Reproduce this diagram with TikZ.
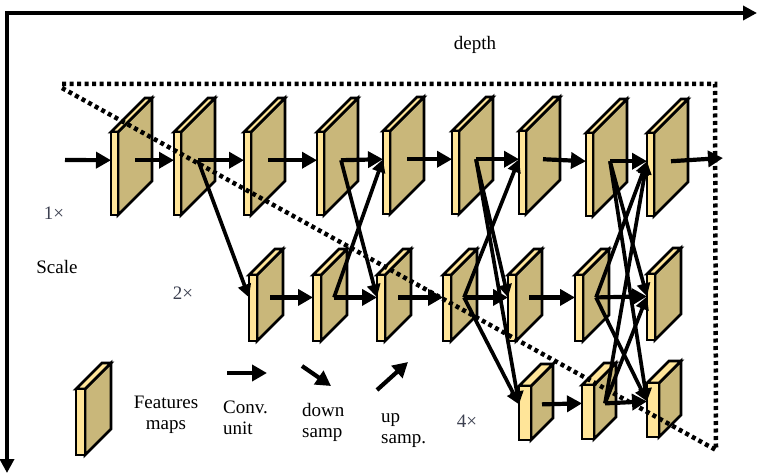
\documentclass[tikz,border=0pt]{standalone}
\usepackage{fontspec}
\setmainfont{Liberation Serif}
\usetikzlibrary{arrows.meta}
\definecolor{sidecol}{RGB}{201,183,122}
\definecolor{frontcol}{RGB}{255,229,153}
\definecolor{lblcol}{RGB}{60,64,80}
\newcommand\fmap[6]{%
  \draw[mapline, fill=sidecol] (#2+#4,#3) -- (#2+#4+#6,#3-#6) -- (#2+#4+#6,#3+#5-#6) -- (#2+#4,#3+#5) -- cycle;
  \draw[mapline, fill=frontcol] (#2,#3) -- (#2+#6,#3-#6) -- (#2+#4+#6,#3-#6) -- (#2+#4,#3) -- cycle;
  \draw[mapline, fill=frontcol] (#2,#3) rectangle (#2+#4,#3+#5);
  \coordinate (#1) at (#2+#4+#6/2,#3+0.34*#5);
  \coordinate (#1w) at (#2,#3+0.34*#5);
}
\begin{document}
\begin{tikzpicture}[x=1pt,y=-1pt,
  mapline/.style={line width=2.8pt},
  conv/.style={line width=4.2pt,-{Triangle[length=15pt,width=16pt]}},
  samp/.style={line width=3.7pt,-{Triangle[length=13pt,width=13pt]}},
  axis/.style={line width=4.5pt,-{Triangle[length=14pt,width=14pt]}},
  dots/.style={line width=4.5pt,dash pattern=on 4pt off 3.5pt},
  lbl/.style={font=\fontsize{19}{22}\selectfont, inner sep=0pt, anchor=base},
  scl/.style={lbl, text=lblcol}]
\useasboundingbox (0,0) rectangle (757,473);
% axes
\coordinate (xend) at (757,13);
\coordinate (yend) at (7,473);
\draw[axis] (5,13) -- (xend);
\draw[axis] (7,11) -- (yend);
% feature maps row 1
\fmap{A1}{111}{132}{7}{83}{34}
\fmap{A2}{174}{132}{7}{83}{34}
\fmap{A3}{244}{132}{7}{83}{34}
\fmap{A4}{317}{132}{7}{83}{34}
\fmap{A5}{383}{131}{7}{83}{34}
\fmap{A6}{452}{131}{7}{83}{34}
\fmap{A7}{519}{131}{7}{83}{34}
\fmap{A8}{586}{133}{7}{83}{34}
\fmap{A9}{647}{133}{7}{83}{34}
% row 2
\fmap{B1}{249}{275}{8}{66}{26}
\fmap{B2}{313}{275}{8}{66}{26}
\fmap{B3}{377}{275}{8}{66}{26}
\fmap{B4}{443}{275}{8}{66}{26}
\fmap{B5}{508}{275}{8}{66}{26}
\fmap{B6}{575}{275}{8}{66}{26}
\fmap{B7}{647}{274}{8}{66}{26}
% row 3
\fmap{C1}{519}{386}{12}{54}{22}
\fmap{C2}{582}{385}{12}{54}{22}
\fmap{C3}{647}{383}{12}{54}{22}
% legend map
\fmap{L}{76}{389}{9}{66}{26}
% input / output
\coordinate (in) at (65,160);
\coordinate (out) at (723,158);
% conv arrows row 1
\draw[conv] (in) -- (A1w);
\foreach \a/\b in {A1/A2,A2/A3,A3/A4,A4/A5,A5/A6,A6/A7,A7/A8,A8/A9}
  \draw[conv] (\a) -- (\b w);
\draw[conv] (A9) -- (out);
% row 2
\foreach \a/\b in {B1/B2,B2/B3,B3/B4,B4/B5,B5/B6,B6/B7}
  \draw[conv] (\a) -- (\b w);
% row 3
\foreach \a/\b in {C1/C2,C2/C3}
  \draw[conv] (\a) -- (\b w);
% down sampling
\foreach \a/\b in {A2/B1,A4/B3,A6/B5,A6/C1,B4/C1,A8/B7,A8/C3,B6/C3}
  \draw[samp] (\a) -- (\b w);
% up sampling
\foreach \a/\b in {B2/A5,B4/A7,B6/A9,C2/A9,C2/B7}
  \draw[samp] (\a) -- (\b w);
% dotted triangle
\coordinate (t1) at (62,84);
\coordinate (t2) at (715,84);
\coordinate (t3) at (716,450);
\draw[dots] (t1) -- (t2) -- (t3) -- (62,88);
% labels
\node[lbl] (depth) at (475,50) {depth};
\node[scl] (s1) at (54,219) {1×};
\node[lbl] (scale) at (57,273) {Scale};
\node[scl] (s2) at (183,299) {2×};
\node[scl] (s4) at (467,427) {4×};
% legend
\coordinate (lc1) at (227,373);
\coordinate (lc2) at (267,373);
\draw[conv] (lc1) -- (lc2);
\coordinate (ld1) at (302,366);
\coordinate (ld2) at (331,386);
\draw[conv] (ld1) -- (ld2);
\coordinate (lu1) at (377,390);
\coordinate (lu2) at (408,362);
\draw[conv] (lu1) -- (lu2);
\node[lbl] (f1) at (166,408) {Features};
\node[lbl] (f2) at (166,429) {maps};
\node[lbl, anchor=base west] (c1) at (223,413) {Conv.};
\node[lbl, anchor=base west] (c2) at (223,434) {unit};
\node[lbl, anchor=base west] (d1) at (302,416) {down};
\node[lbl, anchor=base west] (d2) at (302,437) {samp};
\node[lbl, anchor=base west] (u1) at (381,422) {up};
\node[lbl, anchor=base west] (u2) at (381,443) {samp.};
\end{tikzpicture}
\end{document}
